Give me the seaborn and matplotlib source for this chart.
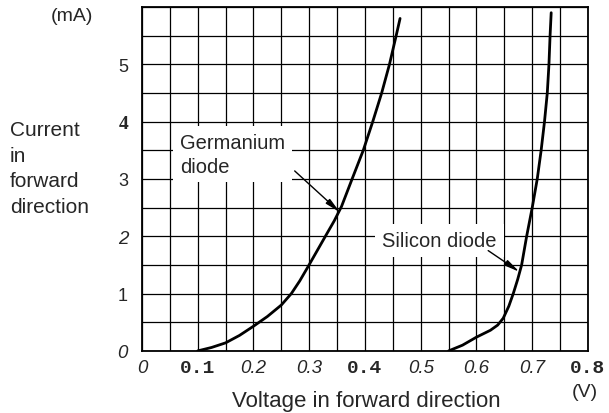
import numpy as np
import pandas as pd
import seaborn as sns
import matplotlib.pyplot as plt
from matplotlib.ticker import MultipleLocator

# Forward characteristic (V, mA)
ge_v = [0.100, 0.125, 0.150, 0.175, 0.200, 0.225, 0.250, 0.268, 0.283, 0.298,
        0.315, 0.332, 0.345, 0.358, 0.377, 0.397, 0.414, 0.430, 0.444, 0.456, 0.463]
ge_i = [0.00, 0.06, 0.14, 0.27, 0.43, 0.60, 0.80, 1.00, 1.22, 1.47,
        1.76, 2.05, 2.27, 2.52, 3.00, 3.50, 4.00, 4.50, 5.00, 5.50, 5.80]

si_v = [0.550, 0.575, 0.600, 0.625, 0.638, 0.648, 0.658, 0.666, 0.674, 0.681,
        0.690, 0.700, 0.709, 0.716, 0.722, 0.727, 0.730, 0.732, 0.734]
si_i = [0.00, 0.10, 0.24, 0.36, 0.45, 0.57, 0.78, 1.00, 1.25, 1.50,
        2.00, 2.50, 3.00, 3.50, 4.00, 4.50, 5.00, 5.50, 5.90]

x_ticks = [0, 0.1, 0.2, 0.3, 0.4, 0.5, 0.6, 0.7, 0.8]
x_labels = ["0", "0.1", "0.2", "0.3", "0.4", "0.5", "0.6", "0.7", "0.8"]
y_ticks = [0, 1, 2, 3, 4, 5]
y_labels = ["0", "1", "2", "3", "4", "5"]

df = pd.concat([
    pd.DataFrame({"V": ge_v, "I": ge_i, "diode": "Germanium"}),
    pd.DataFrame({"V": si_v, "I": si_i, "diode": "Silicon"}),
])

sns.set_style("white")
plt.rcParams["font.family"] = ["Liberation Sans", "DejaVu Sans"]

fig = plt.figure(figsize=(6.09, 4.14), dpi=100)
ax = fig.add_axes([0.233, 0.150, 0.7325, 0.8307])

sns.lineplot(data=df, x="V", y="I", units="diode", estimator=None, sort=False,
             color="black", linewidth=2.0, ax=ax, legend=False, zorder=3)

ax.set_xlim(0, 0.8)
ax.set_ylim(0, 6)
ax.set_xticks(x_ticks)
ax.set_xticklabels(x_labels)
ax.set_yticks(y_ticks)
ax.set_yticklabels(y_labels)
ax.xaxis.set_minor_locator(MultipleLocator(0.05))
ax.yaxis.set_minor_locator(MultipleLocator(0.5))
ax.grid(True, which="both", color="black", linewidth=0.9)
ax.tick_params(which="both", length=0)
ax.tick_params(axis="x", pad=6)
ax.tick_params(axis="y", pad=10)
ax.set_xlabel("")
ax.set_ylabel("")
for s in ax.spines.values():
    s.set_color("black")
    s.set_linewidth(1.3)

# mixed type faces of the original scan
italic = dict(family="Liberation Sans", style="italic", size=13.5)
plain = dict(family="Liberation Sans", size=13)
mono = dict(family="Liberation Mono", weight="bold", size=14)
serif = dict(family="Liberation Serif", weight="bold", size=14)
x_styles = [italic, mono, italic, italic, mono, italic, italic, italic, mono]
y_styles = [italic, plain, italic, plain, serif, plain]
for lbl, st in zip(ax.get_xticklabels(), x_styles):
    lbl.set(**st)
for lbl, st in zip(ax.get_yticklabels(), y_styles):
    lbl.set(**st)

box = dict(facecolor="white", edgecolor="none", pad=5)
ax.text(0.068, 3.43, "Germanium\ndiode", fontsize=14.5, va="center", ha="left",
        linespacing=1.3, bbox=box, zorder=4)
ax.text(0.431, 1.93, "Silicon diode", fontsize=14.5, va="center", ha="left",
        bbox=box, zorder=4)

arrow = dict(arrowstyle="-|>,head_length=0.9,head_width=0.18", color="black",
             lw=1.0, shrinkA=0, shrinkB=0)
ax.annotate("", xy=(0.355, 2.42), xytext=(0.274, 3.14), arrowprops=arrow, zorder=5)
ax.annotate("", xy=(0.677, 1.38), xytext=(0.621, 1.75), arrowprops=arrow, zorder=5)

fig.text(0.118, 0.959, "(mA)", fontsize=14, ha="center", va="center")
fig.text(0.961, 0.053, "(V)", fontsize=14, ha="center", va="center")
fig.text(0.016, 0.708, "Current\nin\nforward\ndirection", fontsize=15,
         ha="left", va="top", linespacing=1.45)
fig.text(0.601, 0.029, "Voltage in forward direction", fontsize=16,
         ha="center", va="center")

fig.savefig("out.png", dpi=100)
